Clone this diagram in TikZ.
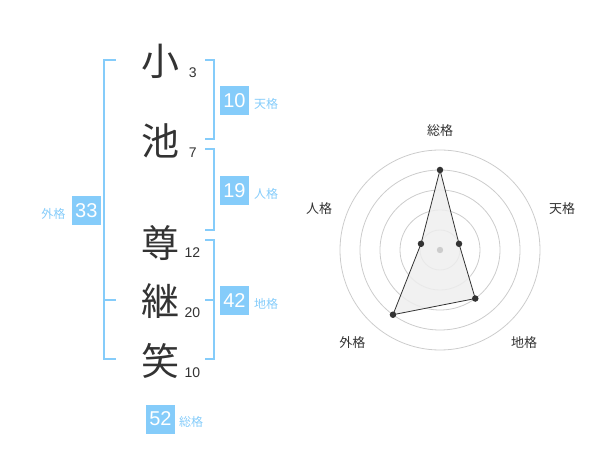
\documentclass[tikz,border=0pt]{standalone}
\usepackage{fontspec}
\setmainfont{Liberation Sans}
\newfontfamily\jp{Noto Sans CJK JP}
\definecolor{sky}{HTML}{85CCFA}
\definecolor{ink}{HTML}{333333}
\definecolor{ring}{HTML}{CCCCCC}
\definecolor{area}{HTML}{EEEEEE}
\tikzset{
  kanji/.style={font=\jp\fontsize{38}{38}\selectfont, text=ink, inner sep=0pt},
  stroke/.style={font=\fontsize{14}{14}\selectfont, text=ink, inner sep=0pt},
  valbox/.style={fill=sky, text=white, minimum size=29pt, inner sep=0pt, font=\fontsize{20}{20}\selectfont},
  vallab/.style={font=\jp\fontsize{12}{12}\selectfont, text=sky, inner sep=0pt},
  brk/.style={draw=sky, line width=2pt},
  axlab/.style={font=\jp\fontsize{13}{13}\selectfont, text=ink, inner sep=0pt},
  pt/.style={circle, fill=ink, minimum size=6.5pt, inner sep=0pt},
}
\begin{document}
\begin{tikzpicture}[x=1pt, y=-1pt]
\useasboundingbox (0,0) rectangle (600,470);
% brackets
\draw[brk] (115.7,60) -- (104.3,60) -- (104.3,359.3) -- (115.7,359.3);
\draw[brk] (104.3,300) -- (115.7,300);
\draw[brk] (205,60) -- (214.3,60) -- (214.3,139.3) -- (205,139.3);
\draw[brk] (205,149.3) -- (214.3,149.3) -- (214.3,230) -- (205,230);
\draw[brk] (205,240) -- (214.3,240) -- (214.3,359.3) -- (205,359.3);
\draw[brk] (205,300) -- (214.3,300);
% characters
\node[kanji] (c1) at (160,61) {小};
\node[kanji] (c2) at (160,141) {池};
\node[kanji] (c3) at (160,243) {尊};
\node[kanji] (c4) at (160,301) {継};
\node[kanji] (c5) at (160,361) {笑};
\node[stroke] (s1) at (192.7,72.7) {3};
\node[stroke] (s2) at (192.7,152.7) {7};
\node[stroke] (s3) at (192.5,252.3) {12};
\node[stroke] (s4) at (192.5,312.3) {20};
\node[stroke] (s5) at (192.5,372.3) {10};
% values
\node[valbox] (ten) at (234.5,100.5) {10};
\node[vallab, anchor=west] (tenl) at (254,104) {天格};
\node[valbox] (jin) at (234.5,190.5) {19};
\node[vallab, anchor=west] (jinl) at (254,194) {人格};
\node[valbox] (chi) at (234.5,300.5) {42};
\node[vallab, anchor=west] (chil) at (254,304) {地格};
\node[valbox] (gai) at (86.3,210.5) {33};
\node[vallab, anchor=east] (gail) at (65.5,213.5) {外格};
\node[valbox] (sou) at (160.5,419) {52};
\node[vallab, anchor=west] (soul) at (179,422) {総格};
% radar
\coordinate (O) at (440,250);
\foreach \r in {20,40,60,80,100} \draw[ring, line width=0.8pt] (O) circle[radius=\r];
\path (O) ++(0,-80) coordinate (pS);
\path (O) ++({20*cos(18)},{-20*sin(18)}) coordinate (pT);
\path (O) ++({60*cos(54)},{60*sin(54)}) coordinate (pC);
\path (O) ++({-80*cos(54)},{80*sin(54)}) coordinate (pG);
\path (O) ++({-20*cos(18)},{-20*sin(18)}) coordinate (pJ);
\draw[ink, fill=area, line width=0.8pt, fill opacity=0.85] (pS) -- (pT) -- (pC) -- (pG) -- (pJ) -- cycle;
\fill[ring] (O) circle[radius=3.2];
\foreach \p in {pS,pT,pC,pG,pJ} \node[pt] at (\p) {};
\node[axlab] (lS) at (440,131) {総格};
\node[axlab] (lT) at (562,208.5) {天格};
\node[axlab] (lJ) at (319,208.5) {人格};
\node[axlab] (lG) at (352.3,342.5) {外格};
\node[axlab] (lC) at (524,342.5) {地格};
\end{tikzpicture}
\end{document}
